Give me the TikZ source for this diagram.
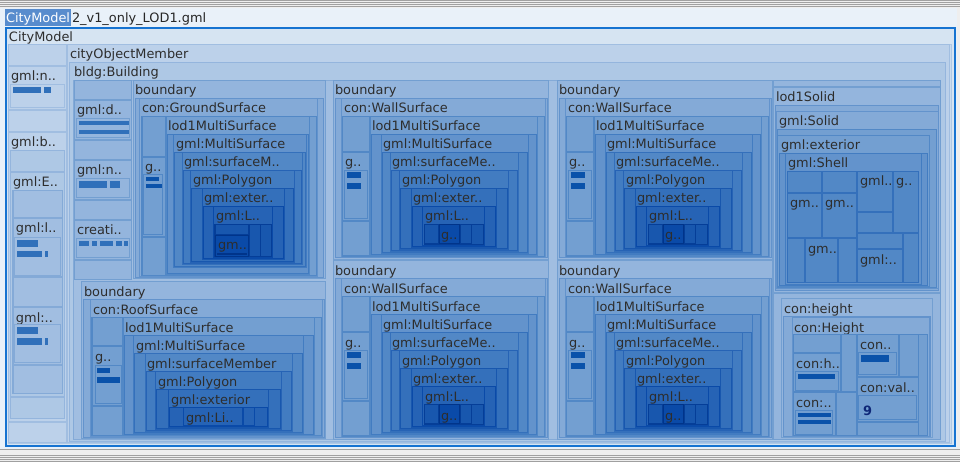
\documentclass[tikz,border=0pt]{standalone}
\usepackage{fontspec}
\setmainfont{DejaVu Sans}
\definecolor{d0}{RGB}{214,228,242}
\definecolor{d1}{RGB}{201,219,238}
\definecolor{d2}{RGB}{188,209,234}
\definecolor{d3}{RGB}{174,200,229}
\definecolor{d4}{RGB}{161,190,225}
\definecolor{d5}{RGB}{148,181,221}
\definecolor{d6}{RGB}{132,170,215}
\definecolor{d7}{RGB}{115,159,209}
\definecolor{d8}{RGB}{99,147,204}
\definecolor{d9}{RGB}{82,136,198}
\definecolor{d10}{RGB}{66,124,193}
\definecolor{d11}{RGB}{52,112,187}
\definecolor{d12}{RGB}{38,99,181}
\definecolor{d13}{RGB}{24,87,174}
\definecolor{d14}{RGB}{10,74,168}
\definecolor{d15}{RGB}{5,62,152}
\definecolor{d16}{RGB}{0,52,138}
\colorlet{bd0}{d2}\colorlet{bd1}{d3}\colorlet{bd2}{d4}\colorlet{bd3}{d5}
\colorlet{bd4}{d6}\colorlet{bd5}{d7}\colorlet{bd6}{d8}\colorlet{bd7}{d9}
\colorlet{bd8}{d10}\colorlet{bd9}{d11}\colorlet{bd10}{d12}\colorlet{bd11}{d13}
\colorlet{bd12}{d14}\colorlet{bd13}{d15}\colorlet{bd14}{d16}
\definecolor{txt}{RGB}{45,45,45}
\definecolor{barc}{RGB}{48,112,186}
\definecolor{bardk}{RGB}{10,82,170}
\definecolor{frameblue}{RGB}{22,115,209}
\definecolor{hl}{RGB}{88,140,205}
\definecolor{titlebg}{RGB}{233,241,249}
\definecolor{graybg}{RGB}{238,238,238}
\definecolor{grayln}{RGB}{160,160,160}
\definecolor{nine}{RGB}{15,40,120}
\newcounter{labc}
\newcommand\bx[5]{\fill[d#5] (#1,#2) rectangle (#3,#4);
  \draw[bd#5,line width=1pt] (#1+0.5,#2+0.5) rectangle (#3-0.5,#4-0.5);}
\newcommand\lab[3]{\stepcounter{labc}\node[lbl] (t\thelabc) at (#1,#2) {#3};}
\newcommand\barr[5]{\fill[#5] (#1,#2) rectangle (#3,#4);}
\newcommand\wallchain{%
  \bx{333}{80}{549}{260}{5}\lab{335}{93}{boundary}
  \bx{335}{98}{548}{258}{6}
  \bx{341}{98}{546}{258}{6}\lab{344}{111}{con:WallSurface}
  \bx{342}{116}{545}{257}{7}
  \bx{342}{116}{370}{152}{7}
  \bx{342}{152}{370}{221}{7}\lab{345}{165}{g..}
  \bx{344}{170}{368}{219}{7}
  \barr{347}{172}{361}{178}{bardk}\barr{347}{183}{361}{189}{bardk}
  \bx{342}{221}{370}{256}{7}
  \bx{370}{116}{538}{256}{7}\lab{372}{129}{lod1MultiSurface}
  \bx{371}{134}{537}{255}{8}
  \bx{381}{134}{529}{254}{8}\lab{383}{147}{gml:MultiSurface}
  \bx{382}{152}{528}{253}{9}
  \bx{390}{152}{519}{252}{9}\lab{392}{165}{gml:surfaceMe..}
  \bx{391}{170}{518}{251}{10}
  \bx{399}{170}{509}{250}{10}\lab{402}{183}{gml:Polygon}
  \bx{400}{188}{508}{249}{11}
  \bx{411}{188}{497}{248}{11}\lab{413}{201}{gml:exter..}
  \bx{412}{206}{496}{247}{12}
  \bx{422}{206}{485}{246}{12}\lab{425}{219}{gml:L..}
  \bx{424}{224}{484}{245}{13}
  \bx{424}{224}{439}{244}{13}
  \bx{439}{224}{460}{244}{14}\lab{441}{238}{g..}
  \bx{460}{224}{472}{244}{13}
}
\begin{document}
\begin{tikzpicture}[x=1pt,y=-1pt,
  lbl/.style={anchor=base west,inner sep=0pt,outer sep=0pt,yshift=-2pt,text=txt,font=\fontsize{12.9}{14}\selectfont}]
\useasboundingbox (0,0) rectangle (960,462);
% window chrome
\fill[graybg] (0,0) rectangle (960,462);
\foreach \yy in {0.5,2.5,4.5,6.5,455.5,457.5,459.5,461.5}
  \draw[grayln,line width=1pt] (0,\yy) -- (960,\yy);
\fill[titlebg] (0,8) rectangle (957,449);
\draw[grayln,line width=1pt] (0,449.5) -- (960,449.5);
\fill[hl] (5,9) rectangle (71,26);
\node[lbl,text=white] (title1) at (6,21) {CityModel};
\node[lbl,text=black!85] (title2) at (72,21) {2\_v1\_only\_LOD1.gml};
% frame
\fill[d0] (6,28) rectangle (955,446);
\draw[frameblue,line width=2pt] (6,28) rectangle (955,446);
\lab{9}{40}{CityModel}
% container
\bx{8}{44}{952}{444}{1}
% left column
\bx{8}{44}{67}{66}{2}
\bx{8}{66}{67}{110}{2}\lab{11}{79}{gml:n..}
\bx{10}{84}{65}{108}{2}
\barr{13}{87}{41}{93}{barc}\barr{44}{87}{51}{93}{barc}
\bx{8}{110}{67}{132}{2}
\bx{8}{132}{67}{422}{2}\lab{11}{145}{gml:b..}
\bx{10}{150}{65}{419}{3}
\bx{10}{150}{65}{172}{3}
\bx{10}{172}{65}{397}{3}\lab{13}{185}{gml:E..}
\bx{12}{190}{63}{394}{4}
\bx{13}{190}{63}{218}{4}
\bx{13}{218}{63}{277}{4}\lab{16}{231}{gml:l..}
\bx{14}{237}{61}{276}{4}
\barr{17}{240}{38}{247}{barc}\barr{17}{251}{42}{257}{barc}\barr{45}{251}{48}{257}{barc}
\bx{13}{277}{63}{307}{4}
\bx{13}{307}{63}{365}{4}\lab{16}{320}{gml:..}
\bx{14}{324}{61}{363}{4}
\barr{17}{327}{38}{334}{barc}\barr{17}{338}{42}{345}{barc}\barr{45}{338}{48}{345}{barc}
\bx{13}{365}{63}{394}{4}
\bx{10}{397}{65}{419}{3}
\bx{8}{422}{67}{443}{2}
% cityObjectMember / bldg:Building
\bx{67}{44}{950}{443}{2}\lab{70}{57}{cityObjectMember}
\bx{69}{62}{946}{442}{3}\lab{74}{75}{bldg:Building}
\bx{73}{80}{941}{440}{4}
% left sub-column
\bx{74}{80}{132}{100}{5}
\bx{74}{100}{132}{140}{5}\lab{77}{113}{gml:d..}
\bx{76}{118}{130}{138}{5}
\barr{79}{121}{129}{125}{barc}\barr{79}{130}{129}{134}{barc}
\bx{74}{140}{132}{160}{5}
\bx{74}{160}{132}{200}{5}\lab{77}{173}{gml:n..}
\bx{76}{178}{130}{198}{5}
\barr{79}{181}{107}{188}{barc}\barr{110}{181}{120}{188}{barc}
\bx{74}{200}{132}{220}{5}
\bx{74}{220}{132}{260}{5}\lab{77}{233}{creati..}
\bx{76}{238}{130}{258}{5}
\barr{79}{241}{89}{246}{barc}\barr{92}{241}{97}{246}{barc}\barr{100}{241}{113}{246}{barc}
\barr{116}{241}{122}{246}{barc}\barr{124}{241}{128}{246}{barc}
\bx{74}{260}{132}{280}{5}
% ground surface
\bx{133}{80}{326}{279}{5}\lab{135}{93}{boundary}
\bx{135}{98}{324}{278}{6}
\bx{139}{98}{318}{277}{6}\lab{142}{111}{con:GroundSurface}
\bx{141}{116}{317}{276}{7}
\bx{142}{116}{166}{157}{7}
\bx{142}{157}{166}{237}{7}\lab{145}{170}{g..}
\bx{143}{174}{163}{235}{7}
\barr{146}{177}{159}{181}{bardk}\barr{146}{184}{162}{188}{bardk}
\bx{142}{237}{166}{276}{7}
\bx{166}{116}{310}{275}{7}\lab{168}{129}{lod1MultiSurface}
\bx{167}{134}{309}{274}{8}
\bx{173}{134}{307}{268}{8}\lab{176}{147}{gml:MultiSurface}
\bx{174}{152}{306}{267}{9}
\bx{182}{152}{303}{265}{9}\lab{184}{165}{gml:surfaceM..}
\bx{183}{170}{302}{264}{10}
\bx{190}{170}{295}{263}{10}\lab{193}{183}{gml:Polygon}
\bx{191}{188}{294}{262}{11}
\bx{202}{188}{285}{260}{11}\lab{204}{201}{gml:exter..}
\bx{203}{206}{284}{259}{12}
\bx{213}{206}{273}{258}{12}\lab{216}{219}{gml:L..}
\bx{214}{224}{272}{257}{13}
\bx{215}{224}{249}{235}{13}
\bx{215}{235}{249}{257}{14}\lab{218}{248}{gm..}
\barr{217}{253}{247}{255}{d16}
\bx{249}{224}{261}{257}{13}
% roof surface
\bx{81}{281}{326}{439}{5}\lab{84}{294}{boundary}
\bx{83}{299}{325}{438}{6}
\bx{90}{299}{323}{437}{6}\lab{93}{312}{con:RoofSurface}
\bx{91}{317}{322}{436}{7}
\bx{92}{317}{123}{346}{7}
\bx{92}{346}{123}{406}{7}\lab{95}{359}{g..}
\bx{95}{365}{122}{404}{7}
\barr{97}{368}{110}{373}{bardk}\barr{97}{377}{120}{383}{bardk}
\bx{92}{406}{123}{436}{7}
\bx{123}{317}{315}{436}{7}\lab{125}{330}{lod1MultiSurface}
\bx{124}{335}{314}{435}{8}
\bx{133}{335}{304}{434}{8}\lab{136}{348}{gml:MultiSurface}
\bx{134}{353}{303}{433}{9}
\bx{145}{353}{293}{432}{9}\lab{147}{366}{gml:surfaceMember}
\bx{146}{371}{292}{431}{10}
\bx{155}{371}{282}{430}{10}\lab{158}{384}{gml:Polygon}
\bx{156}{389}{281}{429}{11}
\bx{168}{389}{269}{428}{11}\lab{171}{402}{gml:exterior}
\bx{169}{407}{268}{427}{12}
\bx{183}{407}{243}{426}{12}\lab{186}{420}{gml:Li..}
\bx{243}{407}{255}{426}{12}
% wall surfaces
\wallchain
\begin{scope}[shift={(224,0)}]\wallchain\end{scope}
\begin{scope}[shift={(0,180)}]\wallchain\end{scope}
\begin{scope}[shift={(224,180)}]\wallchain\end{scope}
% lod1Solid
\bx{773}{80}{941}{87}{5}
\bx{773}{87}{941}{293}{5}\lab{776}{100}{lod1Solid}
\bx{775}{105}{939}{291}{6}
\bx{776}{111}{939}{289}{6}\lab{779}{124}{gml:Solid}
\bx{777}{129}{937}{288}{7}
\bx{777}{135}{930}{287}{7}\lab{781}{148}{gml:exterior}
\bx{779}{153}{928}{286}{8}
\bx{785}{153}{922}{285}{8}\lab{788}{166}{gml:Shell}
\bx{787}{171}{822}{193}{9}
\bx{822}{171}{857}{193}{9}
\bx{787}{193}{822}{238}{9}\lab{790}{206}{gm..}
\bx{822}{193}{857}{238}{9}\lab{825}{206}{gm..}
\bx{787}{238}{805}{283}{9}
\bx{805}{238}{838}{283}{9}\lab{808}{251}{gm..}
\bx{838}{238}{857}{283}{9}
\bx{857}{171}{893}{212}{9}\lab{860}{184}{gml..}
\bx{893}{171}{919}{233}{9}\lab{896}{184}{g..}
\bx{857}{212}{893}{233}{9}
\bx{857}{233}{903}{249}{9}
\bx{857}{249}{903}{283}{9}\lab{860}{262}{gml:..}
\bx{903}{233}{919}{283}{9}
% con:height
\bx{773}{293}{941}{440}{5}
\bx{781}{298}{933}{438}{5}\lab{784}{311}{con:height}
\bx{783}{316}{931}{437}{6}
\bx{792}{317}{930}{437}{6}\lab{794}{330}{con:Height}
\bx{793}{334}{928}{436}{7}
\bx{793}{334}{841}{353}{7}
\bx{793}{353}{841}{392}{7}\lab{796}{366}{con:h..}
\bx{795}{371}{839}{391}{7}
\barr{798}{374}{835}{379}{bardk}
\bx{841}{334}{857}{392}{7}
\bx{793}{392}{836}{436}{7}\lab{796}{405}{con:..}
\bx{795}{410}{833}{435}{7}
\barr{798}{413}{831}{417}{bardk}\barr{798}{420}{831}{424}{bardk}
\bx{836}{392}{857}{436}{7}
\bx{857}{334}{899}{377}{7}\lab{860}{347}{con..}
\bx{858}{352}{897}{375}{7}
\barr{861}{355}{889}{362}{bardk}
\bx{899}{334}{919}{377}{7}
\bx{857}{377}{919}{422}{7}\lab{860}{390}{con:val..}
\bx{858}{395}{917}{420}{7}
\node[lbl,text=nine,font=\fontsize{12.9}{14}\selectfont\bfseries] (nine) at (863,413) {9};
\bx{857}{422}{919}{436}{7}
\end{tikzpicture}
\end{document}
